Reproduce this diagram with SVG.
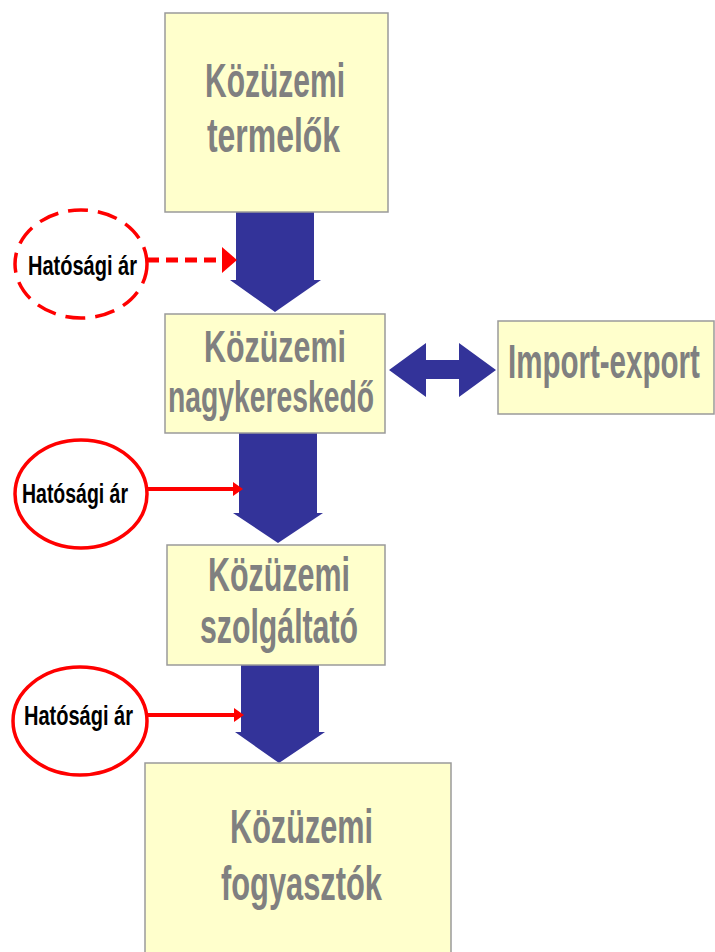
<svg xmlns="http://www.w3.org/2000/svg" width="715" height="952" viewBox="0 0 715 952">
<style>
.box{fill:#FFFFCC;stroke:#9a9a9a;stroke-width:1.5}
.big{font-family:"Liberation Sans",Arial,sans-serif;font-weight:bold;font-size:48px;fill:#808080}
.mid{font-size:44px}
.small{font-family:"Liberation Sans",Arial,sans-serif;font-weight:bold;font-size:27px;fill:#000}
.flow{fill:#333399}
.ell{fill:#fff;stroke:#ff0000;stroke-width:3.5}
.red{stroke:#ff0000;fill:none}
.redfill{fill:#ff0000}
</style>
<rect width="715" height="952" fill="#ffffff"/>
<g id="connectors">
<polygon class="flow" points="236,212 314,212 314,280 321,280 275,312 230,280 236,280"/>
<polygon class="flow" points="239,433 317,433 317,513 323,513 278,543 233,513 239,513"/>
<polygon class="flow" points="241,665 319,665 319,732 325,732 279,763 235,732 241,732"/>
<polygon class="flow" points="389,370 426,343 426,360 459,360 459,343 496,370 459,397 459,379 426,379 426,397"/>
<line class="red" x1="147" y1="260" x2="223" y2="260" stroke-width="5" stroke-dasharray="12,7"/>
<polygon class="redfill" points="222,247 237,260 222,273"/>
<line class="red" x1="147" y1="489" x2="234" y2="489" stroke-width="4"/>
<polygon class="redfill" points="233,482 243,489 233,496"/>
<line class="red" x1="147" y1="715" x2="235" y2="715" stroke-width="4"/>
<polygon class="redfill" points="234,708 244,715 234,722"/>
</g>
<g id="termelok">
<rect class="box" x="165" y="13" width="223" height="199"/>
<text class="big" x="205" y="97" textLength="140" lengthAdjust="spacingAndGlyphs">Közüzemi</text>
<text class="big" x="207" y="152" textLength="133" lengthAdjust="spacingAndGlyphs">termelők</text>
</g>
<g id="nagykereskedo">
<rect class="box" x="165" y="314" width="220" height="119"/>
<text class="big mid" x="204" y="362" textLength="142" lengthAdjust="spacingAndGlyphs">Közüzemi</text>
<text class="big mid" x="168" y="412" textLength="206" lengthAdjust="spacingAndGlyphs">nagykereskedő</text>
</g>
<g id="import-export">
<rect class="box" x="498" y="321" width="216" height="93"/>
<text class="big" transform="translate(508,378) scale(0.615,1)" x="0" y="0">Import-export</text>
</g>
<g id="szolgaltato">
<rect class="box" x="167" y="545" width="218" height="120"/>
<text class="big" x="208" y="591" textLength="142" lengthAdjust="spacingAndGlyphs">Közüzemi</text>
<text class="big" x="200" y="643" textLength="158" lengthAdjust="spacingAndGlyphs">szolgáltató</text>
</g>
<g id="fogyasztok">
<rect class="box" x="145" y="763" width="306" height="200"/>
<text class="big" x="230" y="843" textLength="143" lengthAdjust="spacingAndGlyphs">Közüzemi</text>
<text class="big" x="221" y="900" textLength="161" lengthAdjust="spacingAndGlyphs">fogyasztók</text>
</g>
<g id="hatosagi-ar-1">
<ellipse class="ell" cx="81" cy="264" rx="66" ry="54" stroke-dasharray="20,10"/>
<text class="small" x="28" y="275" textLength="109" lengthAdjust="spacingAndGlyphs">Hatósági ár</text>
</g>
<g id="hatosagi-ar-2">
<ellipse class="ell" cx="81" cy="494" rx="66" ry="54"/>
<text class="small" x="22" y="503" textLength="106" lengthAdjust="spacingAndGlyphs">Hatósági ár</text>
</g>
<g id="hatosagi-ar-3">
<ellipse class="ell" cx="80" cy="721" rx="67" ry="54"/>
<text class="small" x="24" y="725" textLength="109" lengthAdjust="spacingAndGlyphs">Hatósági ár</text>
</g>
</svg>
